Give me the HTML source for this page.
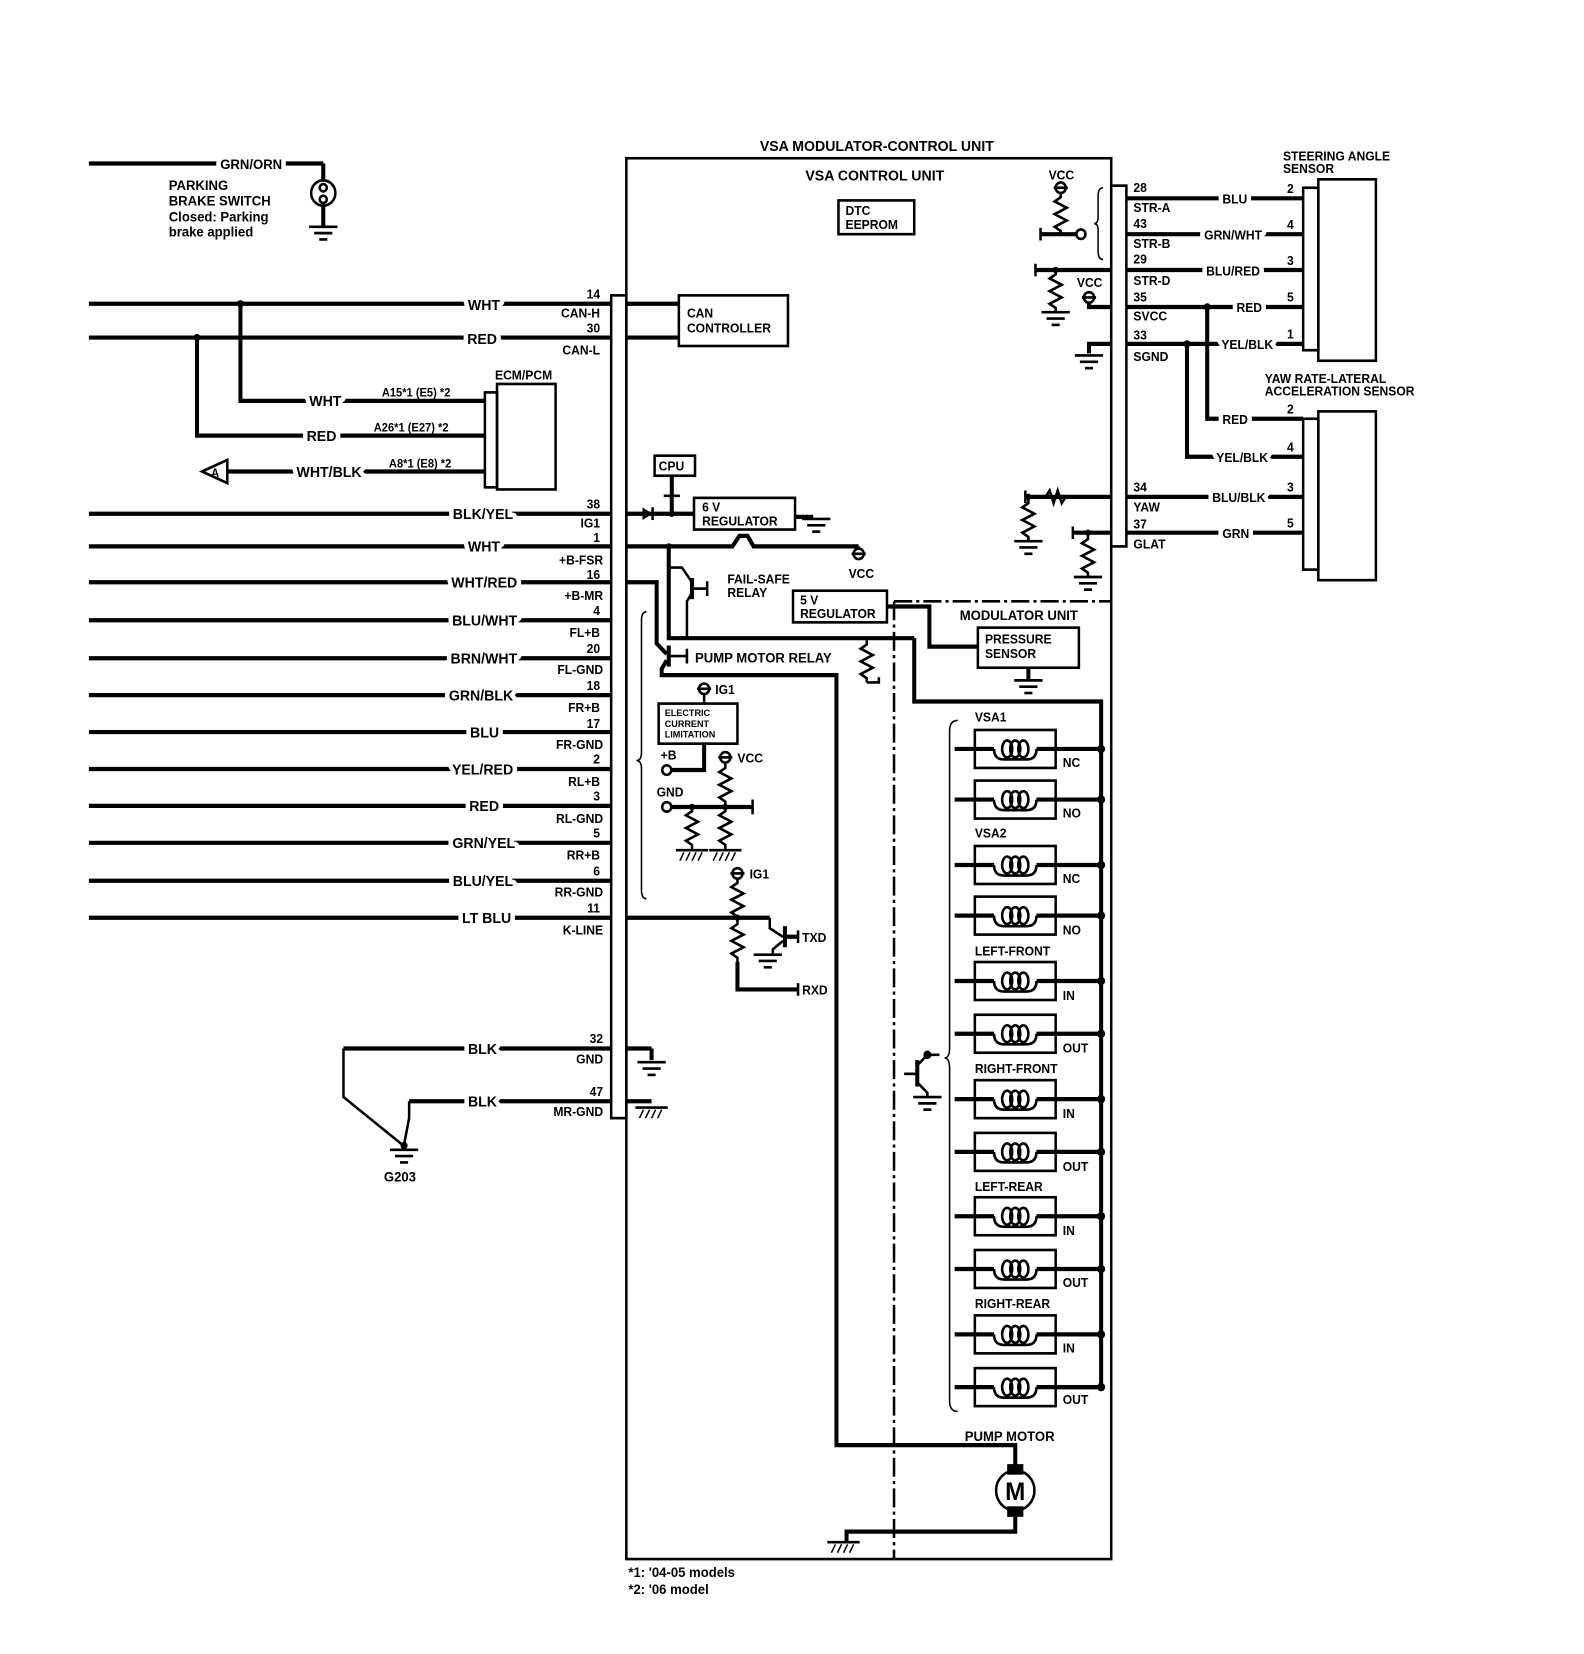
<!DOCTYPE html>
<html><head><meta charset="utf-8"><style>
html,body{margin:0;padding:0;background:#fff}
svg{display:block}
text{font-family:"Liberation Sans",sans-serif;font-weight:bold;fill:#000}
.w{stroke:#000;stroke-width:4;fill:none}
.m{stroke:#000;stroke-width:2.5;fill:none}
.t{stroke:#000;stroke-width:1.5;fill:none}
.k{paint-order:stroke;stroke:#fff;stroke-width:9px;stroke-linejoin:round}
</style></head><body>
<svg width="1584" height="1654" viewBox="0 0 1568 1568" preserveAspectRatio="none" xmlns="http://www.w3.org/2000/svg">
<defs>
<g id="gnd"><line x1="-14" y1="0" x2="14" y2="0" class="m" stroke-width="4"/><line x1="-9" y1="6" x2="9" y2="6" class="m"/><line x1="-4" y1="12" x2="4" y2="12" class="m"/></g>
<g id="cgnd"><line x1="-16" y1="0" x2="16" y2="0" class="m" stroke-width="4"/><line x1="-12" y1="10" x2="-8" y2="2" class="t"/><line x1="-6" y1="10" x2="-2" y2="2" class="t"/><line x1="0" y1="10" x2="4" y2="2" class="t"/><line x1="6" y1="10" x2="10" y2="2" class="t"/></g>
<polyline id="resv" class="m" points="0,0 0,4 -6,8 6,14 -6,20 6,26 -6,32 0,36 0,40"/>
<g id="coil"><line x1="945" y1="0" x2="984" y2="0" class="w"/><path class="m" d="M984 0 q0 10 10 10 h22 q10 0 10 -10"/><ellipse cx="997" cy="0" rx="5" ry="8" class="m"/><ellipse cx="1005" cy="0" rx="5" ry="8" class="m"/><ellipse cx="1013" cy="0" rx="5" ry="8" class="m"/><line x1="1026" y1="0" x2="1090" y2="0" class="w"/><rect x="965" y="-18" width="80" height="36" class="m"/><circle cx="1090" cy="0" r="4"/></g>
</defs>

<!-- parking brake -->
<line x1="88" y1="155" x2="320" y2="155" class="w"/>
<text x="218" y="160" font-size="13" class="k">GRN/ORN</text>
<line x1="320" y1="155" x2="320" y2="170" class="w"/>
<circle cx="320" cy="183" r="12" class="m"/><circle cx="320" cy="178" r="3.5" class="m"/><circle cx="320" cy="189" r="3.5" class="m"/>
<line x1="320" y1="195" x2="320" y2="215" class="w"/><use href="#gnd" x="320" y="215"/>
<text x="167" y="180" font-size="13">PARKING</text>
<text x="167" y="195" font-size="13">BRAKE SWITCH</text>
<text x="167" y="210" font-size="13">Closed: Parking</text>
<text x="167" y="224" font-size="13">brake applied</text>

<!-- CAN -->
<line x1="88" y1="288" x2="605" y2="288" class="w"/>
<line x1="88" y1="320" x2="605" y2="320" class="w"/>
<text x="495" y="294" font-size="14" text-anchor="end" class="k">WHT</text>
<text x="492" y="326" font-size="14" text-anchor="end" class="k">RED</text>
<circle cx="238" cy="288" r="3.5"/><circle cx="195" cy="320" r="3.5"/>
<polyline class="w" points="238,288 238,380 480,380"/>
<polyline class="w" points="195,320 195,413 480,413"/>
<text x="338" y="385" font-size="14" text-anchor="end" class="k">WHT</text>
<text x="333" y="418" font-size="14" text-anchor="end" class="k">RED</text>
<line x1="225" y1="447" x2="480" y2="447" class="w"/>
<text x="358" y="452" font-size="14" text-anchor="end" class="k">WHT/BLK</text>
<polygon points="200,447 225,436 225,458" class="m" fill="#fff"/><text x="209" y="452" font-size="11">A</text>
<text x="378" y="376" font-size="11">A15*1 (E5) *2</text>
<text x="370" y="409" font-size="11">A26*1 (E27) *2</text>
<text x="385" y="443" font-size="11">A8*1 (E8) *2</text>
<rect x="480" y="372" width="12" height="90" class="m"/><rect x="492" y="364" width="58" height="100" class="m"/>
<text x="490" y="360" font-size="12">ECM/PCM</text>

<!-- left rows -->
<g font-size="14">
<line x1="88" y1="487" x2="605" y2="487" class="w"/><text x="508" y="492" text-anchor="end" class="k">BLK/YEL</text>
<line x1="88" y1="518" x2="605" y2="518" class="w"/><text x="495" y="523" text-anchor="end" class="k">WHT</text>
<line x1="88" y1="552" x2="605" y2="552" class="w"/><text x="512" y="557" text-anchor="end" class="k">WHT/RED</text>
<line x1="88" y1="588" x2="605" y2="588" class="w"/><text x="512" y="593" text-anchor="end" class="k">BLU/WHT</text>
<line x1="88" y1="624" x2="605" y2="624" class="w"/><text x="512" y="629" text-anchor="end" class="k">BRN/WHT</text>
<line x1="88" y1="659" x2="605" y2="659" class="w"/><text x="508" y="664" text-anchor="end" class="k">GRN/BLK</text>
<line x1="88" y1="694" x2="605" y2="694" class="w"/><text x="494" y="699" text-anchor="end" class="k">BLU</text>
<line x1="88" y1="729" x2="605" y2="729" class="w"/><text x="508" y="734" text-anchor="end" class="k">YEL/RED</text>
<line x1="88" y1="764" x2="605" y2="764" class="w"/><text x="494" y="769" text-anchor="end" class="k">RED</text>
<line x1="88" y1="799" x2="605" y2="799" class="w"/><text x="510" y="804" text-anchor="end" class="k">GRN/YEL</text>
<line x1="88" y1="835" x2="605" y2="835" class="w"/><text x="508" y="840" text-anchor="end" class="k">BLU/YEL</text>
<line x1="88" y1="870" x2="605" y2="870" class="w"/><text x="506" y="875" text-anchor="end" class="k">LT BLU</text>
<line x1="340" y1="994" x2="605" y2="994" class="w"/><text x="492" y="999" text-anchor="end" class="k">BLK</text>
<line x1="405" y1="1044" x2="605" y2="1044" class="w"/><text x="492" y="1049" text-anchor="end" class="k">BLK</text>
</g>
<polyline class="m" points="340,994 340,1040 398,1085"/>
<polyline class="m" points="405,1044 405,1060 400,1085"/>
<circle cx="400" cy="1086" r="3.5"/><use href="#gnd" x="400" y="1090"/>
<text x="380" y="1120" font-size="13">G203</text>
<g font-size="12" text-anchor="end">
<text x="594" y="283">14</text><text x="594" y="301">CAN-H</text>
<text x="594" y="315">30</text><text x="594" y="336">CAN-L</text>
<text x="594" y="482">38</text><text x="594" y="500">IG1</text>
<text x="594" y="514">1</text><text x="597" y="535">+B-FSR</text>
<text x="594" y="549">16</text><text x="597" y="569">+B-MR</text>
<text x="594" y="583">4</text><text x="594" y="604">FL+B</text>
<text x="594" y="619">20</text><text x="597" y="639">FL-GND</text>
<text x="594" y="654">18</text><text x="594" y="675">FR+B</text>
<text x="594" y="690">17</text><text x="597" y="710">FR-GND</text>
<text x="594" y="724">2</text><text x="594" y="745">RL+B</text>
<text x="594" y="759">3</text><text x="597" y="780">RL-GND</text>
<text x="594" y="794">5</text><text x="594" y="815">RR+B</text>
<text x="594" y="830">6</text><text x="597" y="850">RR-GND</text>
<text x="594" y="865">11</text><text x="597" y="886">K-LINE</text>
<text x="597" y="989">32</text><text x="597" y="1008">GND</text>
<text x="597" y="1039">47</text><text x="597" y="1058">MR-GND</text>
</g>

<!-- main box -->
<rect x="605" y="280" width="15" height="780" class="m" fill="#fff"/>
<rect x="620" y="150" width="480" height="1328" class="m"/>
<text x="868" y="143" font-size="14" text-anchor="middle">VSA  MODULATOR-CONTROL UNIT</text>
<text x="866" y="171" font-size="14" text-anchor="middle">VSA CONTROL UNIT</text>
<rect x="830" y="190" width="75" height="32" class="m"/>
<text x="837" y="204" font-size="12">DTC</text><text x="837" y="217" font-size="12">EEPROM</text>

<rect x="672" y="280" width="108" height="48" class="m"/>
<line x1="620" y1="288" x2="672" y2="288" class="w"/><line x1="620" y1="320" x2="672" y2="320" class="w"/>
<text x="680" y="301" font-size="12">CAN</text><text x="680" y="315" font-size="12">CONTROLLER</text>

<rect x="648" y="432" width="40" height="19" class="m"/><text x="652" y="446" font-size="12">CPU</text>
<line x1="665" y1="451" x2="665" y2="487" class="w"/><line x1="657" y1="470" x2="673" y2="470" class="m"/>
<line x1="620" y1="487" x2="687" y2="487" class="w"/><polygon points="636,481 646,487 636,493"/><line x1="646" y1="481" x2="646" y2="493" class="m"/>
<circle cx="665" cy="487" r="3"/>
<rect x="687" y="472" width="100" height="30" class="m"/>
<text x="695" y="485" font-size="12">6 V</text><text x="695" y="498" font-size="12">REGULATOR</text>
<line x1="787" y1="490" x2="805" y2="490" class="w"/><use href="#gnd" x="808" y="492"/>
<polyline class="w" points="620,518 725,518 732,508 740,508 746,518 850,518"/>
<circle cx="850" cy="525" r="5" class="m"/><line x1="850" y1="518" x2="850" y2="520" class="m"/><line x1="843" y1="525" x2="857" y2="525" class="m"/>
<text x="840" y="548" font-size="12">VCC</text>

<!-- fail-safe -->
<circle cx="662" cy="518" r="3"/>
<polyline class="w" points="662,518 662,605 905,605"/>
<polyline class="m" points="662,538 675,538 685,552"/><line x1="685" y1="548" x2="685" y2="568" class="w"/><line x1="685" y1="558" x2="700" y2="558" class="m"/><line x1="700" y1="551" x2="700" y2="565" class="m"/>
<polyline class="m" points="685,562 680,570 680,605"/>
<text x="720" y="553" font-size="12">FAIL-SAFE</text><text x="720" y="566" font-size="12">RELAY</text>
<rect x="785" y="560" width="93" height="30" class="m"/>
<text x="792" y="573" font-size="12">5 V</text><text x="792" y="586" font-size="12">REGULATOR</text>
<polyline class="w" points="878,575 920,575 920,613 968,613"/>
<rect x="968" y="595" width="100" height="38" class="m"/>
<text x="975" y="610" font-size="12">PRESSURE</text><text x="975" y="624" font-size="12">SENSOR</text>
<line x1="1018" y1="633" x2="1018" y2="645" class="w"/><use href="#gnd" x="1018" y="645"/>
<text x="950" y="588" font-size="13">MODULATOR UNIT</text>
<polyline class="w" points="905,605 905,665 1090,665 1090,1315 1045,1315"/>
<line x1="885" y1="570" x2="885" y2="1478" class="m" stroke-dasharray="18,4,3,4"/>
<line x1="885" y1="570" x2="1100" y2="570" class="m" stroke-dasharray="18,4,3,4"/>
<use href="#resv" x="858" y="607"/>
<polyline class="m" points="858,647 870,647 870,642"/>

<!-- pump relay -->
<polyline class="w" points="620,552 650,552 650,610 660,620"/>
<line x1="662" y1="612" x2="662" y2="632" class="w"/><line x1="662" y1="622" x2="680" y2="622" class="m"/><line x1="680" y1="615" x2="680" y2="629" class="m"/>
<polyline class="w" points="660,626 655,634 655,640 828,640 828,1370 1005,1370 1005,1395"/>
<text x="688" y="628" font-size="13">PUMP MOTOR RELAY</text>
<rect x="997" y="1388" width="16" height="10"/><rect x="997" y="1428" width="16" height="10"/>
<circle cx="1005" cy="1413" r="19" class="m" fill="#fff"/>
<text x="1005" y="1422" font-size="24" text-anchor="middle" font-weight="normal">M</text>
<polyline class="w" points="1005,1438 1005,1452 838,1452 838,1462"/>
<use href="#cgnd" x="835" y="1462"/>
<text x="955" y="1366" font-size="13">PUMP MOTOR</text>

<!-- current limitation etc -->
<path class="t" d="M640 580 q-5 0 -5 8 v125 q0 8 -5 8 q5 0 5 8 v115 q0 8 5 8"/>
<circle cx="697" cy="653" r="5" class="m"/><line x1="690" y1="653" x2="704" y2="653" class="m"/><text x="708" y="658" font-size="12">IG1</text>
<line x1="697" y1="658" x2="697" y2="667" class="m"/>
<rect x="652" y="667" width="78" height="38" class="m"/>
<text x="658" y="679" font-size="9">ELECTRIC</text><text x="658" y="689" font-size="9">CURRENT</text><text x="658" y="699" font-size="9">LIMITATION</text>
<polyline class="w" points="697,705 697,730 664,730"/><circle cx="660" cy="730" r="4.5" class="m" fill="#fff"/>
<text x="654" y="720" font-size="12">+B</text>
<text x="650" y="755" font-size="12">GND</text>
<circle cx="660" cy="765" r="4.5" class="m" fill="#fff"/>
<line x1="665" y1="765" x2="745" y2="765" class="w"/><line x1="745" y1="758" x2="745" y2="772" class="m"/>
<circle cx="718" cy="718" r="5" class="m"/><line x1="711" y1="718" x2="725" y2="718" class="m"/><text x="730" y="723" font-size="12">VCC</text>
<use href="#resv" x="718" y="724"/>
<use href="#resv" x="718" y="765"/><use href="#resv" x="685" y="765"/>
<use href="#cgnd" x="685" y="806"/><use href="#cgnd" x="718" y="806"/>
<circle cx="685" cy="765" r="3"/><circle cx="718" cy="765" r="3"/>

<!-- K-line -->
<circle cx="730" cy="828" r="5" class="m"/><line x1="723" y1="828" x2="737" y2="828" class="m"/><text x="742" y="833" font-size="12">IG1</text>
<use href="#resv" x="730" y="833"/>
<line x1="620" y1="870" x2="762" y2="870" class="w"/><circle cx="730" cy="870" r="3"/>
<polyline class="m" points="762,870 762,880 775,888"/><line x1="777" y1="878" x2="777" y2="898" class="w"/><line x1="777" y1="888" x2="790" y2="888" class="w"/><line x1="790" y1="882" x2="790" y2="894" class="m"/>
<polyline class="m" points="775,892 765,900 765,905"/><use href="#gnd" x="760" y="905"/>
<text x="794" y="893" font-size="12">TXD</text>
<use href="#resv" x="730" y="872"/>
<polyline class="w" points="730,912 730,938 790,938"/><line x1="790" y1="932" x2="790" y2="944" class="m"/>
<text x="794" y="943" font-size="12">RXD</text>

<line x1="620" y1="994" x2="645" y2="994" class="w"/><line x1="645" y1="994" x2="645" y2="1005" class="w"/><use href="#gnd" x="645" y="1007"/>
<line x1="620" y1="1044" x2="645" y2="1044" class="w"/><use href="#cgnd" x="645" y="1050"/>

<!-- solenoids -->
<path class="t" d="M948 683 q-8 0 -8 10 v300 q0 10 -5 10 q5 0 5 10 v315 q0 10 8 10"/>
<g font-size="12">
<use href="#coil" y="710"/><text x="1052" y="727">NC</text><text x="965" y="684">VSA1</text>
<use href="#coil" y="758"/><text x="1052" y="775">NO</text>
<use href="#coil" y="820"/><text x="1052" y="837">NC</text><text x="965" y="794">VSA2</text>
<use href="#coil" y="868"/><text x="1052" y="886">NO</text>
<use href="#coil" y="930"/><text x="1052" y="948">IN</text><text x="965" y="906">LEFT-FRONT</text>
<use href="#coil" y="980"/><text x="1052" y="998">OUT</text>
<use href="#coil" y="1042"/><text x="1052" y="1060">IN</text><text x="965" y="1017">RIGHT-FRONT</text>
<use href="#coil" y="1092"/><text x="1052" y="1110">OUT</text>
<use href="#coil" y="1153"/><text x="1052" y="1171">IN</text><text x="965" y="1129">LEFT-REAR</text>
<use href="#coil" y="1203"/><text x="1052" y="1220">OUT</text>
<use href="#coil" y="1265"/><text x="1052" y="1282">IN</text><text x="965" y="1240">RIGHT-REAR</text>
<use href="#coil" y="1315"/><text x="1052" y="1331">OUT</text>
</g>
<line x1="908" y1="1005" x2="908" y2="1030" class="w"/><line x1="895" y1="1018" x2="908" y2="1018" class="m"/>
<polyline class="m" points="908,1010 918,1000 930,1000"/><circle cx="918" cy="1000" r="4"/>
<polyline class="m" points="908,1026 918,1036 918,1040"/><use href="#gnd" x="918" y="1040"/>

<!-- right side inner -->
<rect x="1100" y="176" width="15" height="342" class="m" fill="#fff"/>
<path class="t" d="M1092 178 q-5 0 -5 8 v20 q0 6 -4 6 q4 0 4 6 v20 q0 8 5 8"/>
<circle cx="1050" cy="178" r="5" class="m"/><line x1="1043" y1="178" x2="1057" y2="178" class="m"/><text x="1038" y="170" font-size="12">VCC</text>
<use href="#resv" x="1050" y="183"/>
<line x1="1030" y1="222" x2="1066" y2="222" class="w"/><circle cx="1070" cy="222" r="4.5" class="m" fill="#fff"/><line x1="1030" y1="216" x2="1030" y2="228" class="m"/>
<line x1="1025" y1="256" x2="1100" y2="256" class="w"/><line x1="1025" y1="250" x2="1025" y2="262" class="m"/>
<use href="#resv" x="1045" y="256"/><use href="#gnd" x="1045" y="296"/><circle cx="1045" cy="256" r="3"/>
<circle cx="1078" cy="282" r="5" class="m"/><line x1="1071" y1="282" x2="1085" y2="282" class="m"/><text x="1066" y="272" font-size="12">VCC</text>
<polyline class="w" points="1078,287 1078,291 1100,291"/>
<polyline class="w" points="1100,326 1078,326 1078,335"/><use href="#gnd" x="1078" y="337"/>
<line x1="1015" y1="471" x2="1100" y2="471" class="w"/><line x1="1015" y1="465" x2="1015" y2="477" class="m"/>
<polyline class="m" points="1035,471 1039,465 1043,477 1047,465 1051,477 1055,471"/>
<circle cx="1018" cy="471" r="3"/><use href="#resv" x="1018" y="473"/><use href="#gnd" x="1018" y="513"/>
<line x1="1062" y1="505" x2="1100" y2="505" class="w"/><line x1="1062" y1="499" x2="1062" y2="511" class="m"/>
<circle cx="1077" cy="505" r="3"/><use href="#resv" x="1077" y="507"/><use href="#gnd" x="1077" y="547"/>

<g font-size="12">
<text x="1122" y="182">28</text><text x="1122" y="201">STR-A</text>
<text x="1122" y="216">43</text><text x="1122" y="235">STR-B</text>
<text x="1122" y="250">29</text><text x="1122" y="270">STR-D</text>
<text x="1122" y="286">35</text><text x="1122" y="304">SVCC</text>
<text x="1122" y="322">33</text><text x="1122" y="342">SGND</text>
<text x="1122" y="466">34</text><text x="1122" y="485">YAW</text>
<text x="1122" y="501">37</text><text x="1122" y="520">GLAT</text>
</g>
<g font-size="12">
<line x1="1115" y1="188" x2="1290" y2="188" class="w"/><text x="1210" y="193" class="k">BLU</text><text x="1274" y="183">2</text>
<line x1="1115" y1="222" x2="1290" y2="222" class="w"/><text x="1192" y="227" class="k">GRN/WHT</text><text x="1274" y="217">4</text>
<line x1="1115" y1="256" x2="1290" y2="256" class="w"/><text x="1194" y="261" class="k">BLU/RED</text><text x="1274" y="251">3</text>
<line x1="1115" y1="291" x2="1290" y2="291" class="w"/><text x="1224" y="296" class="k">RED</text><text x="1274" y="286">5</text>
<line x1="1115" y1="326" x2="1290" y2="326" class="w"/><text x="1209" y="331" class="k">YEL/BLK</text><text x="1274" y="321">1</text>
<polyline class="w" points="1195,291 1195,397 1290,397"/><circle cx="1195" cy="291" r="3.5"/><text x="1210" y="402" class="k">RED</text><text x="1274" y="392">2</text>
<polyline class="w" points="1175,326 1175,433 1290,433"/><circle cx="1175" cy="326" r="3.5"/><text x="1204" y="438" class="k">YEL/BLK</text><text x="1274" y="428">4</text>
<line x1="1115" y1="471" x2="1290" y2="471" class="w"/><text x="1200" y="476" class="k">BLU/BLK</text><text x="1274" y="466">3</text>
<line x1="1115" y1="505" x2="1290" y2="505" class="w"/><text x="1210" y="510" class="k">GRN</text><text x="1274" y="500">5</text>
</g>
<rect x="1290" y="178" width="15" height="154" class="m"/><rect x="1305" y="170" width="57" height="172" class="m"/>
<text x="1270" y="152" font-size="12">STEERING ANGLE</text><text x="1270" y="164" font-size="12">SENSOR</text>
<rect x="1290" y="397" width="15" height="143" class="m"/><rect x="1305" y="390" width="57" height="160" class="m"/>
<text x="1252" y="363" font-size="12">YAW RATE-LATERAL</text><text x="1252" y="375" font-size="12">ACCELERATION SENSOR</text>

<text x="622" y="1495" font-size="13">*1: '04-05 models</text>
<text x="622" y="1511" font-size="13">*2: '06 model</text>
</svg>
</body></html>
